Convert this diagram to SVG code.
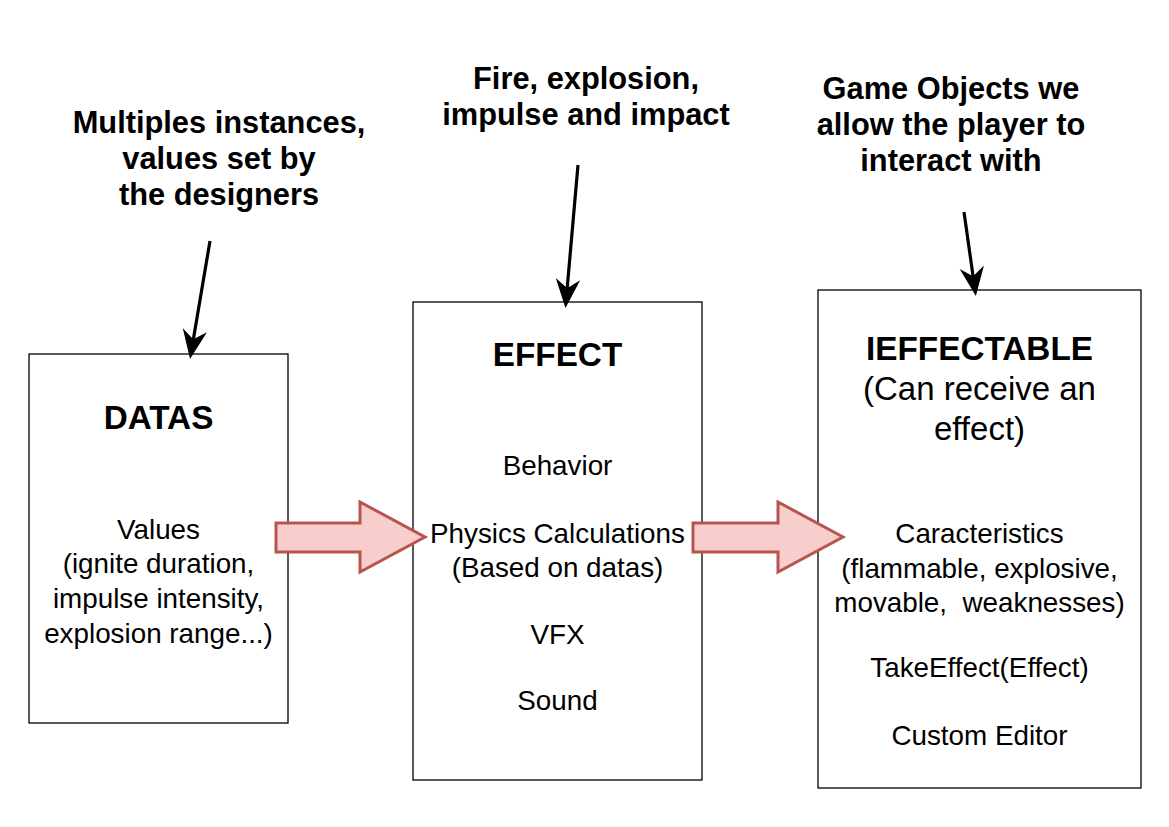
<svg xmlns="http://www.w3.org/2000/svg" width="1169" height="827" viewBox="0 0 1169 827">
<style>
.box{fill:#fff;stroke:#000;stroke-width:1.3}
.t{font-family:"Liberation Sans",Arial,sans-serif;text-anchor:middle;fill:#000}
.title{font-size:33.3px;font-weight:bold}
.sub{font-size:33px}
.body{font-size:27.8px}
.lbl{font-size:30.8px;font-weight:bold}
.blk{fill:#f8cecc;stroke:#b85450;stroke-width:3}
.ln{stroke:#000;stroke-width:3.2;fill:none;marker-end:url(#ah)}
</style>
<defs>
<marker id="ah" markerUnits="userSpaceOnUse" markerWidth="40" markerHeight="40" refX="0" refY="0" orient="auto" viewBox="-10 -10 30 20" overflow="visible">
<path d="M13,0 L-6,-8 L0,0 L-6,8 Z" fill="#000" stroke="#000" stroke-width="1"/>
</marker>
</defs>
<rect width="1169" height="827" fill="#fff"/>
<g id="datas">
<rect class="box" x="29" y="354" width="259" height="369"/>
<text class="t title" x="158.5" y="429">DATAS</text>
<text class="t body" x="158.5" y="539">Values</text>
<text class="t body" x="158.5" y="573">(ignite duration,</text>
<text class="t body" x="158.5" y="608">impulse intensity,</text>
<text class="t body" x="158.5" y="643">explosion range...)</text>
</g>
<g id="effect">
<rect class="box" x="413" y="302" width="289" height="478"/>
<text class="t title" x="557.5" y="366">EFFECT</text>
<text class="t body" x="557.5" y="475">Behavior</text>
<text class="t body" x="557.5" y="543">Physics Calculations</text>
<text class="t body" x="557.5" y="577">(Based on datas)</text>
<text class="t body" x="557.5" y="644">VFX</text>
<text class="t body" x="557.5" y="710">Sound</text>
</g>
<g id="ieffectable">
<rect class="box" x="818" y="290" width="323" height="498"/>
<text class="t title" x="979.5" y="360">IEFFECTABLE</text>
<text class="t sub" x="979.5" y="400">(Can receive an</text>
<text class="t sub" x="979.5" y="440">effect)</text>
<text class="t body" x="979.5" y="543">Caracteristics</text>
<text class="t body" x="979.5" y="578">(flammable, explosive,</text>
<text class="t body" x="979.5" y="612" xml:space="preserve">movable,  weaknesses)</text>
<text class="t body" x="979.5" y="677">TakeEffect(Effect)</text>
<text class="t body" x="979.5" y="745">Custom Editor</text>
</g>
<g id="label-datas">
<text class="t lbl" x="219" y="133">Multiples instances,</text>
<text class="t lbl" x="219" y="169">values set by</text>
<text class="t lbl" x="219" y="205">the designers</text>
</g>
<g id="label-effect">
<text class="t lbl" x="586" y="89">Fire, explosion,</text>
<text class="t lbl" x="586" y="125">impulse and impact</text>
</g>
<g id="label-ieffectable">
<text class="t lbl" x="951" y="99">Game Objects we</text>
<text class="t lbl" x="951" y="135">allow the player to</text>
<text class="t lbl" x="951" y="171">interact with</text>
</g>
<g id="connectors">
<line class="ln" x1="210" y1="241" x2="193.2" y2="340.2"/>
<line class="ln" x1="578" y1="165" x2="567.1" y2="289.1"/>
<line class="ln" x1="964" y1="212" x2="973.2" y2="277.1"/>
<path class="blk" d="M276,523 L360,523 L360,502 L425,537 L360,572 L360,552 L276,552 Z"/>
<path class="blk" d="M693,523 L778,523 L778,502 L843,537 L778,572 L778,552 L693,552 Z"/>
</g>
</svg>
